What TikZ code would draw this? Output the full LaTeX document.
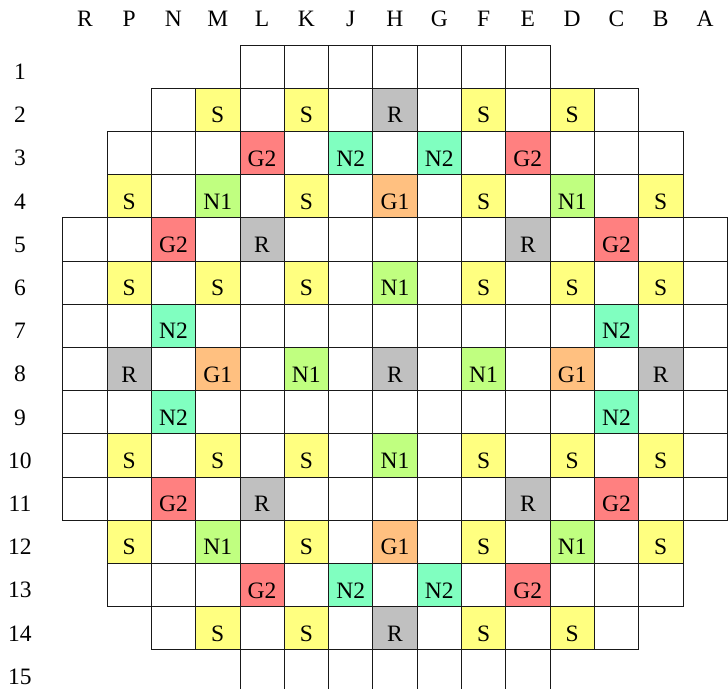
\documentclass[tikz,border=0pt]{standalone}
\usepackage{fontspec}
\setmainfont{Liberation Serif}
\definecolor{cS}{HTML}{FFFF80}
\definecolor{cR}{HTML}{C0C0C0}
\definecolor{cGtwo}{HTML}{FF8080}
\definecolor{cNtwo}{HTML}{80FFC0}
\definecolor{cNone}{HTML}{C0FF80}
\definecolor{cGone}{HTML}{FFC080}
\def\omark{o}
\newcommand\celltext[1]{\ifx#1\omark\else#1\fi}
\newcommand\cellrow[3]{%
  \foreach \lab [count=\k from #2] in {#3} {
    \node[cellbox, k\lab] (c-#1-\k) at ({84.85+44.3*\k},{23.4+43.2*#1}) {\celltext{\lab}};
  }%
}
\begin{document}
\begin{tikzpicture}[x=1pt,y=-1pt,
  txt/.style={font=\fontsize{23.5}{28}\selectfont, inner sep=0pt},
  cellbox/.style={txt, draw=black!90, line width=0.8pt, minimum width=44.3pt, minimum height=43.2pt,
    text height=34.7pt, text depth=8.5pt, anchor=center},
  ko/.style={fill=white},
  kS/.style={fill=cS},
  kR/.style={fill=cR},
  kG2/.style={fill=cGtwo},
  kN2/.style={fill=cNtwo},
  kN1/.style={fill=cNone},
  kG1/.style={fill=cGone},
  lab/.style={txt, anchor=base, text depth=0pt}]
\useasboundingbox (0,0) rectangle (728,688);
\clip (0,0) rectangle (728,688);
% column letters
\foreach \c [count=\k from 0] in {R,P,N,M,L,K,J,H,G,F,E,D,C,B,A}
  \node[lab] (col-\k) at ({84.85+44.3*\k},26) {\c};
% row numbers
\foreach \r in {1,...,15}
  \node[lab] (row-\r) at (20,{36.3+43.2*\r}) {\r};
% grid
\cellrow{1}{4}{o,o,o,o,o,o,o}
\cellrow{2}{2}{o,S,o,S,o,R,o,S,o,S,o}
\cellrow{3}{1}{o,o,o,G2,o,N2,o,N2,o,G2,o,o,o}
\cellrow{4}{1}{S,o,N1,o,S,o,G1,o,S,o,N1,o,S}
\cellrow{5}{0}{o,o,G2,o,R,o,o,o,o,o,R,o,G2,o,o}
\cellrow{6}{0}{o,S,o,S,o,S,o,N1,o,S,o,S,o,S,o}
\cellrow{7}{0}{o,o,N2,o,o,o,o,o,o,o,o,o,N2,o,o}
\cellrow{8}{0}{o,R,o,G1,o,N1,o,R,o,N1,o,G1,o,R,o}
\cellrow{9}{0}{o,o,N2,o,o,o,o,o,o,o,o,o,N2,o,o}
\cellrow{10}{0}{o,S,o,S,o,S,o,N1,o,S,o,S,o,S,o}
\cellrow{11}{0}{o,o,G2,o,R,o,o,o,o,o,R,o,G2,o,o}
\cellrow{12}{1}{S,o,N1,o,S,o,G1,o,S,o,N1,o,S}
\cellrow{13}{1}{o,o,o,G2,o,N2,o,N2,o,G2,o,o,o}
\cellrow{14}{2}{o,S,o,S,o,R,o,S,o,S,o}
\cellrow{15}{4}{o,o,o,o,o,o,o}
\end{tikzpicture}
\end{document}
